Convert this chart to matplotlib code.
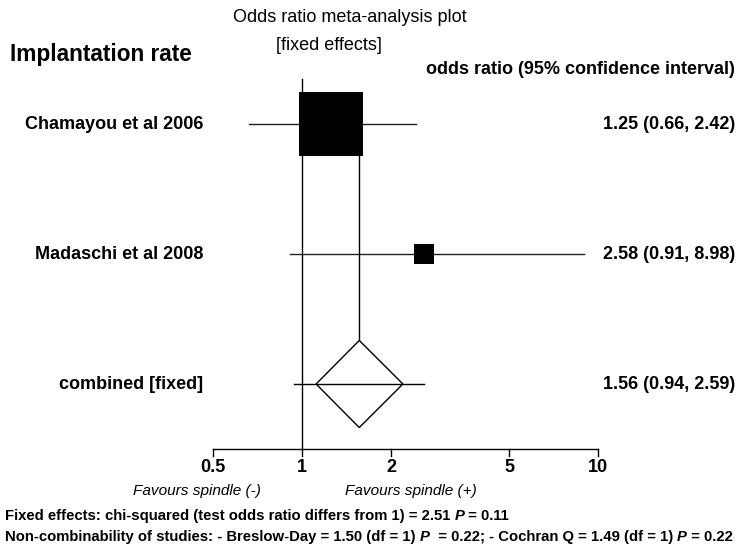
import numpy as np
import matplotlib.pyplot as plt
from matplotlib.patches import Polygon
from matplotlib.transforms import blended_transform_factory

plt.rcParams['font.family'] = ['Liberation Sans', 'DejaVu Sans']

# studies
studies = ["Chamayou et al 2006", "Madaschi et al 2008"]
odds_ratio = [1.25, 2.58]
ci_low = [0.66, 0.91]
ci_high = [2.42, 8.98]

# pooled (fixed effects)
pooled_label = "combined [fixed]"
pooled_or = 1.56
pooled_low = 0.94
pooled_high = 2.59
diamond_ends = [1.115, 2.19]

tick_values = [0.5, 1, 2, 5, 10]
tick_labels = ["0.5", "1", "2", "5", "10"]

W, H = 739, 549
fig = plt.figure(figsize=(W / 100, H / 100), dpi=100)
ax = fig.add_axes([0, 0, 1, 1])
ax.set_xscale('log')
# 0.5 sits at px 213, one decade = 296 px
decade = 296.0
lx0 = np.log10(0.5) - 213 / decade
ax.set_xlim(10 ** lx0, 10 ** (lx0 + W / decade))
# rows 130 px apart, first row at px 124
row_px, row0 = 130.0, 124.0
ax.set_ylim((H - row0) / row_px, -row0 / row_px)
ax.axis('off')

def py(px):
    return (px - row0) / row_px

n = len(studies)
pooled_row = n
axis_row = py(449)

# weights -> box size
se = [(np.log(h) - np.log(l)) / 3.92 for l, h in zip(ci_low, ci_high)]
w = np.array([1 / s ** 2 for s in se])
box_px = 63 * w / w.max()

lc = '#222222'
# null line and pooled line
ax.plot([1, 1], [py(79), axis_row], color='black', lw=1.0, zorder=1)
ax.plot([pooled_or, pooled_or], [0, pooled_row - 0.335], color='black', lw=1.0, zorder=1)

for i in range(n):
    ax.plot([ci_low[i], ci_high[i]], [i, i], color=lc, lw=1.0, zorder=2)
    ax.plot([odds_ratio[i]], [i], marker='s', color='black', markersize=box_px[i] * 0.72,
            markeredgewidth=0, zorder=3)

# diamond
dh = 0.335
diamond = Polygon([(diamond_ends[0], pooled_row), (pooled_or, pooled_row - dh),
                   (diamond_ends[1], pooled_row), (pooled_or, pooled_row + dh)],
                  closed=True, facecolor='white', edgecolor='black', lw=1.0, zorder=2)
ax.add_patch(diamond)
ax.plot([pooled_low, pooled_high], [pooled_row, pooled_row], color='black', lw=1.0, zorder=3)

# x axis
ax.plot([tick_values[0], tick_values[-1]], [axis_row, axis_row], color='black', lw=1.0)
for tv, tl in zip(tick_values, tick_labels):
    ax.plot([tv, tv], [axis_row, py(456)], color='black', lw=1.0)
    ax.text(tv, py(467), tl, ha='center', va='center', fontsize=13, fontweight='bold')

tr = blended_transform_factory(ax.transAxes, ax.transData)
labels = studies + [pooled_label]
ors = odds_ratio + [pooled_or]
los = ci_low + [pooled_low]
his = ci_high + [pooled_high]
for i in range(n + 1):
    ax.text(203 / W, i, labels[i], transform=tr, ha='right', va='center',
            fontsize=13, fontweight='bold')
    ax.text(735 / W, i, f"{ors[i]:.2f} ({los[i]:.2f}, {his[i]:.2f})", transform=tr,
            ha='right', va='center', fontsize=13, fontweight='bold')

def fx(px):
    return px / W

def fy(px):
    return 1 - px / H

fig.text(fx(350), fy(17), "Odds ratio meta-analysis plot", ha='center', va='center', fontsize=13)
fig.text(fx(329), fy(45), "[fixed effects]", ha='center', va='center', fontsize=13)
fig.text(fx(10), fy(55), "Implantation rate", ha='left', va='center', fontsize=16.3, fontweight='bold')
fig.text(fx(735), fy(69), "odds ratio (95% confidence interval)", ha='right', va='center',
         fontsize=13, fontweight='bold')

fig.text(fx(197), fy(491), "Favours spindle (-)", ha='center', va='center', fontsize=11.1, fontstyle='italic')
fig.text(fx(411), fy(491), "Favours spindle (+)", ha='center', va='center', fontsize=11.1, fontstyle='italic')

renderer = fig.canvas.get_renderer()

def rich_line(x, y, parts, size=10.7):
    for txt, style in parts:
        t = fig.text(x, y, txt, fontsize=size, fontweight='bold', fontstyle=style,
                     ha='left', va='center')
        bb = t.get_window_extent(renderer=renderer)
        x = bb.x1 / fig.bbox.width

rich_line(fx(5), fy(516), [("Fixed effects: chi-squared (test odds ratio differs from 1) = 2.51 ", 'normal'),
                            ("P", 'italic'), (" = 0.11", 'normal')])
rich_line(fx(5), fy(537), [("Non-combinability of studies: - Breslow-Day = 1.50 (df = 1) ", 'normal'),
                            ("P", 'italic'), ("  = 0.22; - Cochran Q = 1.49 (df = 1) ", 'normal'),
                            ("P", 'italic'), (" = 0.22", 'normal')])

fig.savefig('out.png', dpi=100)
